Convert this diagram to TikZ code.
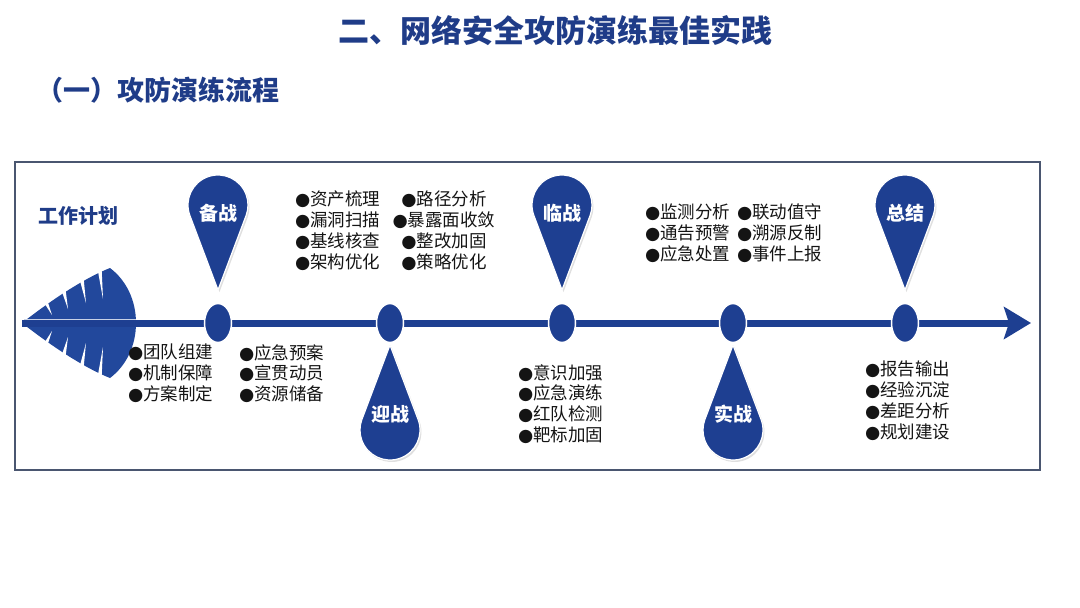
\documentclass[tikz,border=0pt]{standalone}
\usepackage{fontspec}
\setmainfont{Noto Sans CJK SC}
\newfontfamily\symfont{DejaVu Sans}
\usetikzlibrary{arrows.meta,calc,positioning,shapes.geometric,shadows}
\definecolor{navy}{HTML}{1F3C88}
\definecolor{pinblue}{HTML}{1E3F91}
\definecolor{leafblue}{HTML}{22489C}
\definecolor{framegray}{HTML}{4A5670}
\definecolor{ink}{HTML}{141414}
\newcommand{\bul}{{\symfont\char"25CF}}
\tikzset{>=Stealth,line width=.8pt,
  every node/.style={inner sep=0pt},
  heading/.style={font=\fontsize{31}{36}\selectfont\bfseries,text=navy},
  subheading/.style={font=\fontsize{27}{32}\selectfont\bfseries,text=navy},
  frame/.style={draw=framegray,line width=1.8pt},
  timeline/.style={draw=pinblue,line width=7pt,-{Stealth[length=27pt,width=32pt,inset=5pt]}},
  stage/.style={ellipse,fill=pinblue,draw=white,line width=1.5pt,minimum width=27pt,minimum height=39pt},
  pin/.style={fill=pinblue,draw=white,line width=1.2pt,drop shadow={opacity=.25,shadow xshift=1.5pt,shadow yshift=-2pt}},
  pinlabel/.style={font=\fontsize{19}{22}\selectfont\bfseries,text=white},
  items/.style={font=\fontsize{17.5}{20.7}\selectfont,text=ink,align=left,anchor=north west},
  notch/.style={fill=white}}
\begin{document}
\begin{tikzpicture}[x=1pt,y=-1pt,plan/.style={font=\fontsize{20}{24}\selectfont\bfseries,text=navy}]
\useasboundingbox (0,0) rectangle (1080,608);
\node[heading] (ttl) at (555,31) {二、网络安全攻防演练最佳实践};
\node[subheading,anchor=west] (sub) at (36,90) {（一）攻防演练流程};
\draw[frame] (15,162) rectangle (1040,470);
\node[plan,anchor=west] (plan) at (38,216) {工作计划};
\fill[leafblue] (22,323) .. controls (45,305) and (80,280) .. (110,268) .. controls (126,280) and (136,300) .. (136,323)
  .. controls (136,346) and (126,366) .. (110,378) .. controls (80,366) and (45,341) .. (22,323) -- cycle;
\foreach \ax/\ay/\bx/\by in {45/301/52/315,63/289/68/309,81/277/86/303,99/266/103/299}{
  \fill[notch] (\ax-2,\ay) -- (\ax+2.5,\ay) -- (\bx,\by) -- cycle;
  \fill[notch] (\ax-2,646-\ay) -- (\ax+2.5,646-\ay) -- (\bx,646-\by) -- cycle;}
\draw[white!75!leafblue,line width=.8pt] (24,319.5) -- (136,319.5);
\coordinate (tail) at (22,323);\coordinate (head) at (1031,323);
\draw[timeline] (tail) -- (head);
\foreach \n/\px/\cy/\dir/\ly/\lab in {1/218/205/90/213/备战,2/390/430/-90/414/迎战,3/562/205/90/213/临战,4/733/430/-90/414/实战,5/905/205/90/213/总结}{
  \node[stage] (s\n) at (\px,323) {};
  \path[pin] ($(\px,\cy)+(\dir+70:30)$) arc[start angle=\dir+70,end angle=\dir+290,radius=30] -- ($(\px,\cy)+(\dir:85)$) -- cycle;
  \node[pinlabel] (p\n) at (\px,\ly) {\lab};}
\node[items] (team) at (128,344) {\bul 团队组建\\\bul 机制保障\\\bul 方案制定};
\node[items] (prep) at (239,344) {\bul 应急预案\\\bul 宣贯动员\\\bul 资源储备};
\node[items] (asset) at (295,191) {\bul 资产梳理\\\bul 漏洞扫描\\\bul 基线核查\\\bul 架构优化};
\node[items,align=center,anchor=north] (path) at (444,191) {\bul 路径分析\\\bul 暴露面收敛\\\bul 整改加固\\\bul 策略优化};
\node[items] (drill) at (518,364) {\bul 意识加强\\\bul 应急演练\\\bul 红队检测\\\bul 靶标加固};
\node[items] (watch) at (645,204) {\bul 监测分析\\\bul 通告预警\\\bul 应急处置};
\node[items] (link) at (737,204) {\bul 联动值守\\\bul 溯源反制\\\bul 事件上报};
\node[items] (sum) at (865,361) {\bul 报告输出\\\bul 经验沉淀\\\bul 差距分析\\\bul 规划建设};
\end{tikzpicture}
\end{document}
